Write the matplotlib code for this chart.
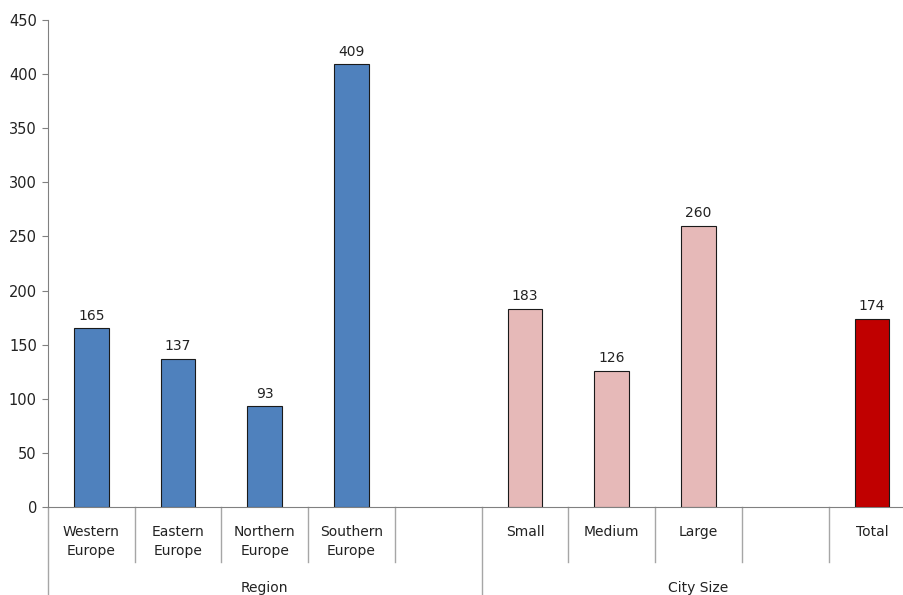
import matplotlib
matplotlib.use('Agg')
import matplotlib.pyplot as plt
import matplotlib.transforms as mtransforms

# chart data
categories = ['Western\nEurope', 'Eastern\nEurope', 'Northern\nEurope', 'Southern\nEurope', '',
              'Small', 'Medium', 'Large', '', 'Total']
values = [165, 137, 93, 409, None, 183, 126, 260, None, 174]
groups = ['Region', 'City Size']
group_spans = [(0, 4), (5, 9)]
colors = ['#4F81BD'] * 5 + ['#E6B9B8'] * 4 + ['#C00000']

plt.rcParams['font.family'] = ['DejaVu Sans']
plt.rcParams['font.size'] = 10

fig = plt.figure(figsize=(9.04, 5.95), dpi=100)
ax = fig.add_axes([48 / 904, 88 / 595, 856 / 904, 487 / 595])

for i, v in enumerate(values):
    if v is None:
        continue
    ax.bar(i, v, width=0.40, color=colors[i], edgecolor='#1a1a1a', linewidth=0.8, zorder=3)
    ax.annotate(str(v), (i, v), xytext=(0, 4), textcoords='offset points',
                ha='center', va='bottom', color='#222222', fontsize=10)

ax.set_xlim(-0.5, 9.37)
ax.set_ylim(0, 450)
ax.set_yticks(range(0, 451, 50))
ax.set_xticks([])
ax.tick_params(axis='y', length=4, color='#808080', labelcolor='#222222', labelsize=10.5, pad=4)
for s in ['top', 'right']:
    ax.spines[s].set_visible(False)
ax.spines['left'].set_color('#808080')
ax.spines['bottom'].set_color('#808080')

trans = mtransforms.blended_transform_factory(ax.transData, ax.transAxes)

# category labels
for i, c in enumerate(categories):
    ax.text(i, -0.037, c, transform=trans, ha='center', va='top', color='#222222',
            fontsize=10, linespacing=1.45)

# category separators
for i in range(len(categories)):
    b = i + 0.5
    if b > 9.37 or b == 4.5:
        continue
    ax.plot([b, b], [0, -0.113], transform=trans, color='#A6A6A6', lw=1, clip_on=False)

# group separators
for b in [-0.5, 4.5]:
    ax.plot([b, b], [0, -0.19], transform=trans, color='#A6A6A6', lw=1, clip_on=False)

# group labels
for g, (a, z) in zip(groups, group_spans):
    ax.text((a + z) / 2, -0.166, g, transform=trans, ha='center', va='center',
            color='#222222', fontsize=10)

fig.savefig('out.png', dpi=100)
